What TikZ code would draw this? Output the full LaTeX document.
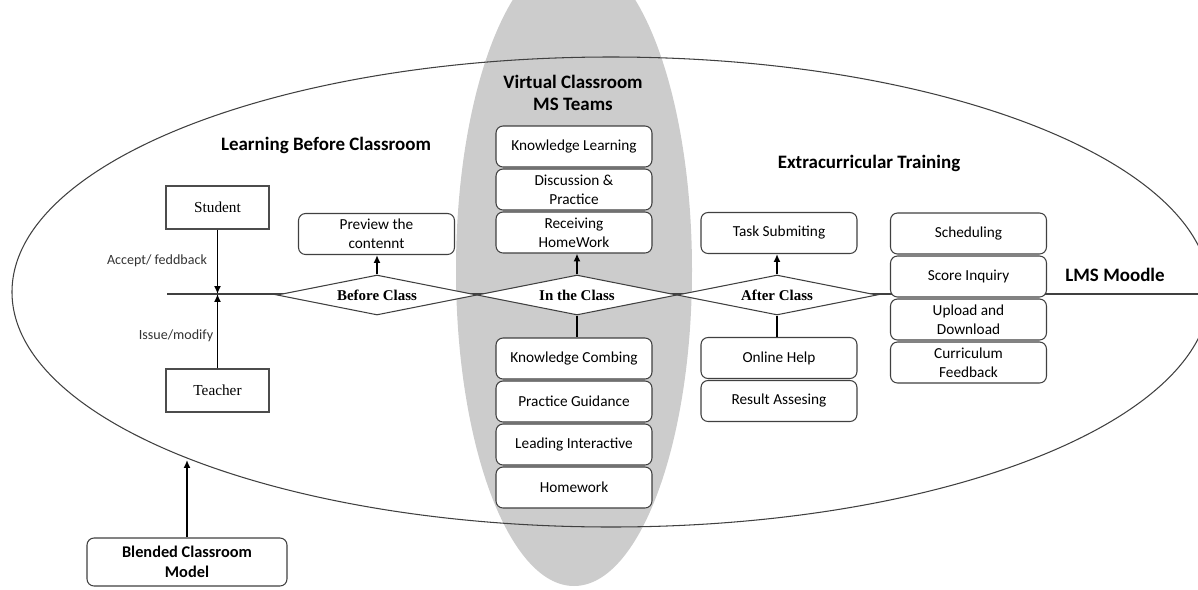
\documentclass[tikz,border=0pt]{standalone}
\usepackage{fontspec}
\setmainfont{Liberation Serif}
\newfontfamily\calfont{Carlito}
\usetikzlibrary{shapes.geometric,arrows.meta}

\begin{document}
\begin{tikzpicture}[x=0.02cm, y=-0.02cm,
	person/.style={rectangle, draw=black!70, fill=white, line width=0.6pt, minimum width=2.06cm, minimum height=0.86cm, font=\fontsize{8.7}{10}\selectfont},
	card/.style={rectangle, rounded corners=4pt, draw=black!75, fill=white, line width=0.6pt, minimum width=3.12cm, minimum height=0.82cm, inner sep=1pt, align=center, font=\calfont\fontsize{8.7}{10.6}\selectfont},
	gate/.style={diamond, aspect=6, draw=black!75, fill=white, line width=0.6pt, inner sep=0pt, minimum width=4cm, minimum height=0.8cm, font=\bfseries\fontsize{8.5}{10}\selectfont},
	head/.style={align=center, font=\calfont\bfseries\fontsize{10.8}{12.6}\selectfont},
	note/.style={font=\calfont\fontsize{8}{10}\selectfont, text=black!80},
	flow/.style={draw=black, line width=1.1pt, -{Latex[length=4.5pt,width=4pt]}}]
			\useasboundingbox (0,0) rectangle (1198,589);
			
			% background shapes
			\fill[black!20] (574,270) ellipse [x radius=118, y radius=316];
			\draw[black!75, line width=0.6pt] (611,292) ellipse [x radius=599, y radius=235];
			
			\coordinate (lstart) at (167,294);
			\coordinate (lend) at (1198,294);
			\draw[black!75, line width=0.6pt] (lstart) -- (lend);
			
			% roles
			\node[person] (stu) at (217.5,207.5) {Student};
			\node[person] (tea) at (217.5,390.5) {Teacher};
			\coordinate (junc) at (217.5,294);
			\node[note] (acc) at (157,261) {Accept/ feddback};
			\node[note] (iss) at (176,336) {Issue/modify};
			
			\draw[flow] (stu) -- (junc);
			\draw[flow] (tea) -- (junc);
			
			% stages
			\node[gate] (bc) at (377,295) {Before Class};
			\node[gate] (ic) at (577,295) {In the Class};
			\node[gate] (ac) at (777,295) {After Class};
			
			\node[head] (lbc) at (326,145) {Learning Before Classroom};
			\node[head] (vc) at (573,93) {Virtual Classroom\\MS Teams};
			\node[head] (ext) at (869,163) {Extracurricular Training};
			\node[head] (lms) at (1115,275) {LMS Moodle};
			
			\node[card] (prev) at (376.5,234) {Preview the\\contennt};
			
			\node[card] (kl) at (574,146.5) {Knowledge Learning};
			\node[card] (dp) at (574,189.5) {Discussion \&\\Practice};
			\node[card] (rh) at (574,232.5) {Receiving\\HomeWork};
			
			\node[card] (kc) at (574,358.5) {Knowledge Combing};
			\node[card] (pg) at (574,401.5) {Practice Guidance};
			\node[card] (li) at (574,444.5) {Leading Interactive};
			\node[card] (hw) at (574,487.5) {Homework};
			
			\node[card] (ts) at (779,233) {Task Submiting};
			\node[card] (oh) at (779,358) {Online Help};
			\node[card] (ra) at (779,401) {Result Assesing};
			
			\node[card] (sch) at (968.5,233.5) {Scheduling};
			\node[card] (sci) at (968.5,276.5) {Score Inquiry};
			\node[card] (upd) at (968.5,319.5) {Upload and\\Download};
			\node[card] (cf) at (968.5,362.5) {Curriculum\\Feedback};
			
			\draw[flow] (bc.north) -- (bc.north |- prev.south);
			\draw[flow] (ic.north) -- (ic.north |- rh.south);
			\draw[flow] (ac.north) -- (ac.north |- ts.south);
			\draw[black, line width=1.1pt] (ic.south) -- (ic.south |- kc.north);
			\draw[black, line width=1.1pt] (ac.south) -- (ac.south |- oh.north);
			
			% model
			\node[card, minimum width=4cm, minimum height=0.96cm, font=\calfont\bfseries\fontsize{9.3}{11.3}\selectfont] (blend) at (187,562) {Blended Classroom\\Model};
			\coordinate (rim) at (187,460);
			\draw[flow] (blend) -- (rim);
			\end{tikzpicture}
\end{document}
